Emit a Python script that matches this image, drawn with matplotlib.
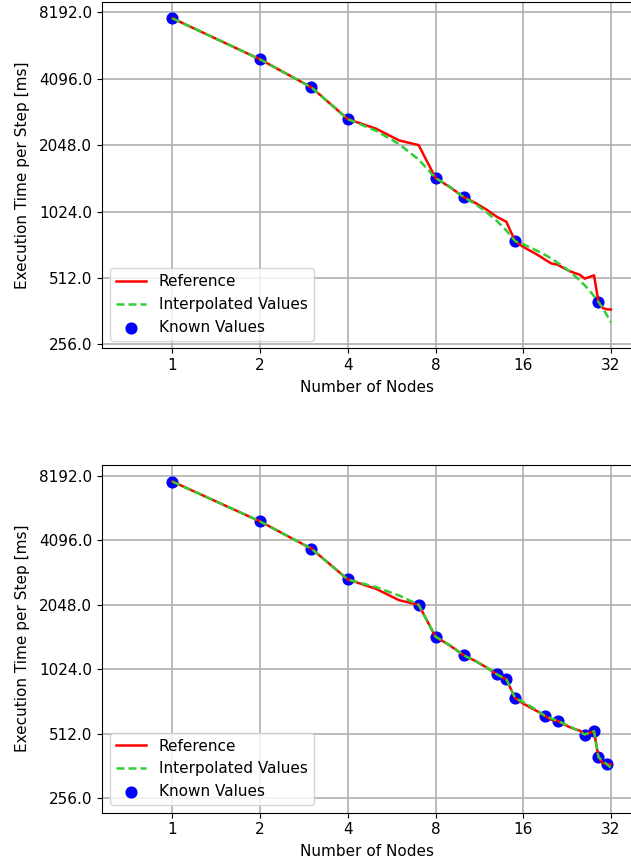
import matplotlib
matplotlib.use('Agg')
import matplotlib.pyplot as plt
from matplotlib.ticker import NullLocator

plt.rcParams.update({
    "font.family": "DejaVu Sans",
    "font.size": 11,
    "grid.color": "#b0b0b0",
    "grid.linewidth": 1.2,
    "lines.linewidth": 1.8,
})

nodes = list(range(1, 33))

# measured time per step for 1..32 nodes
reference = [7690, 5010, 3740, 2686, 2430, 2150, 2048, 1453, 1316, 1189,
             1117, 1042, 968, 920, 752, 708, 677, 649, 620, 595,
             588, 568, 551, 539, 530, 508, 517, 526, 398, 374,
             369, 368]

# top panel: few known values
known_nodes_a = [1, 2, 3, 4, 8, 10, 15, 29]
known_vals_a = [7690, 5010, 3740, 2686, 1453, 1189, 752, 398]
interp_a = [7690, 5010, 3740, 2686, 2378, 2069, 1761, 1453, 1321, 1189,
            1102, 1014, 927, 840, 752, 727, 701, 676, 651, 626,
            600, 575, 550, 524, 499, 474, 449, 423, 398, 373,
            347, 322]

# bottom panel: more known values
known_nodes_b = [1, 2, 3, 4, 7, 8, 10, 13, 14, 15, 19, 21, 26, 28, 29, 31]
known_vals_b = [7690, 5010, 3740, 2686, 2048, 1453, 1189, 968, 920, 752,
                620, 588, 508, 526, 398, 369]
interp_b = [7690, 5010, 3740, 2686, 2473, 2261, 2048, 1453, 1321, 1189,
            1115, 1042, 968, 920, 752, 719, 686, 653, 620, 604,
            588, 572, 556, 540, 524, 508, 517, 526, 398, 383.5,
            369, 354.5]

xticks = [1, 2, 4, 8, 16, 32]
yticks = [256, 512, 1024, 2048, 4096, 8192]

W, H = 631, 866
fig = plt.figure(figsize=(W / 100, H / 100), dpi=100)
ax1 = fig.add_axes([102 / W, 1 - 348.3 / H, 529 / W, 346.3 / H])
ax2 = fig.add_axes([102 / W, 1 - 812.7 / H, 529 / W, 348.0 / H])


def draw(ax, interp, kn, kv, ylim):
    ax.plot(nodes, reference, color='red', label='Reference', zorder=2)
    ax.plot(nodes, interp, '--', color='limegreen', label='Interpolated Values',
            zorder=3, dashes=(3.2, 1.6))
    ax.scatter(kn, kv, s=60, color='blue', label='Known Values', zorder=1)
    ax.set_xscale('log', base=2)
    ax.set_yscale('log', base=2)
    ax.set_xlim(0.573, 37.5)
    ax.set_ylim(*ylim)
    ax.set_xticks(xticks)
    ax.set_xticklabels([str(t) for t in xticks])
    ax.set_yticks(yticks)
    ax.set_yticklabels([str(float(t)) for t in yticks])
    ax.xaxis.set_minor_locator(NullLocator())
    ax.yaxis.set_minor_locator(NullLocator())
    ax.grid(True, which='major')
    ax.set_axisbelow(True)
    ax.set_xlabel('Number of Nodes', labelpad=5)
    ax.set_ylabel('Execution Time per Step [ms]')
    ax.yaxis.set_label_coords(-0.137, 0.5)
    ax.spines['right'].set_visible(False)
    ax.legend(loc='lower left')


draw(ax1, interp_a, known_nodes_a, known_vals_a, (245.6, 9120))
draw(ax2, interp_b, known_nodes_b, known_vals_b, (219.3, 9220))

fig.savefig('out.png', dpi=100)
